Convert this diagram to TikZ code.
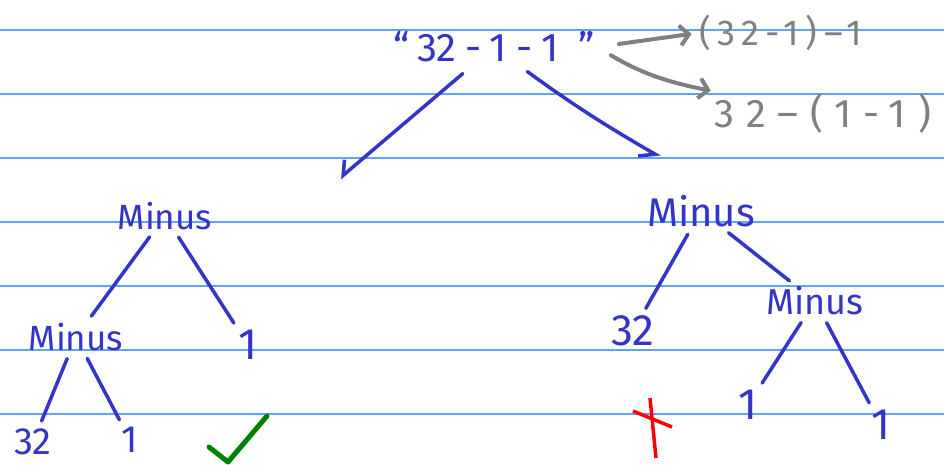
\documentclass[tikz,border=0pt]{standalone}
\usepackage{fontspec}
\setmainfont{Fira Sans}
\usetikzlibrary{arrows.meta}
\definecolor{nbInk}{HTML}{3434C8}
\definecolor{nbGray}{HTML}{808080}
\definecolor{nbRule}{HTML}{5EA4F2}
\definecolor{nbGreen}{HTML}{008000}
\definecolor{nbRed}{HTML}{FF0000}

\begin{document}
\begin{tikzpicture}[x=1pt, y=-1pt,
  ink/.style={text=nbInk, inner sep=2pt, font=\fontsize{#1}{#1}\selectfont},
  ink/.default=35,
  note/.style={text=nbGray, inner sep=2pt, font=\fontsize{36}{36}\selectfont\addfontfeature{LetterSpace=18}},
  branch/.style={draw=nbInk, line width=3.5pt, line cap=round, shorten <=6pt, shorten >=6pt},
  pencil/.style={draw=nbGray, line width=4pt, line cap=round, line join=round,
    -{Straight Barb[length=9pt, width=20pt]}}]
  \useasboundingbox (0,0) rectangle (944,464);
  \fill[white] (0,0) rectangle (944,464);
  % ruled paper
  \foreach \i in {0,...,6}
    \draw[nbRule, line width=1.6pt] (0,{29.7+64*\i}) -- (944,{29.7+64*\i});

  % the expression and its two readings
  \node[ink=40] (expr) at (494,47)
    {“\hspace{8pt}32\hspace{9pt}-\hspace{8pt}1\hspace{9pt}-\hspace{9pt}1\hspace{20pt}”};
  \node[note] (lassoc) at (781,33) {(32-1)–1};
  \node[note, font=\fontsize{40}{40}\selectfont\addfontfeature{LetterSpace=30}] (rassoc) at (823,113) {32–(1-1)};
  \draw[pencil, shorten <=22pt, shorten >=6pt] (expr.east) -- (lassoc.west);
  \draw[pencil, shorten <=16pt, shorten >=2pt] (expr.east) to[bend right=10] (rassoc.north west);

  % arrows down to the two trees
  \coordinate (ltip) at (340,178);
  \coordinate (rtip) at (660,157);
  \draw[branch, shorten <=14pt, shorten >=0pt, -{Straight Barb[right, length=11pt, width=22pt]}] (expr) -- (ltip);
  \draw[branch, shorten <=12pt, shorten >=0pt, -{Straight Barb[right, length=14pt, width=20pt]}] (expr) to[bend right=3] (rtip);

  % left tree: (32-1)-1
  \node[ink] (lroot) at (165,216) {Minus};
  \node[ink] (lsub) at (76,337) {Minus};
  \node[ink=44] (lone) at (248,345) {1};
  \node[ink=38] (lthirty) at (33,442) {32};
  \node[ink=38] (ltwo) at (130,440) {1};
  \draw[branch] (lroot) -- (lsub);
  \draw[branch] (lroot) -- (lone);
  \draw[branch] (lsub) -- (lthirty);
  \draw[branch] (lsub) -- (ltwo);
  \draw[nbGreen, line width=5pt, line cap=round, line join=round] (209,447) -- (228,462) -- (267,416);

  % right tree: 32-(1-1)
  \node[ink=40] (rroot) at (701,211) {Minus};
  \node[ink=44] (rthirty) at (633,331) {32};
  \node[ink=36] (rsub) at (815,301) {Minus};
  \node[ink=44] (rone) at (748,405) {1};
  \node[ink=44] (rtwo) at (881,425) {1};
  \draw[branch] (rroot) -- (rthirty);
  \draw[branch] (rroot) -- (rsub);
  \draw[branch] (rsub) -- (rone);
  \draw[branch] (rsub) -- (rtwo);
  \draw[nbRed, line width=3.5pt] (633,411) -- (672,427) (650,398) -- (656,458);
\end{tikzpicture}
\end{document}
